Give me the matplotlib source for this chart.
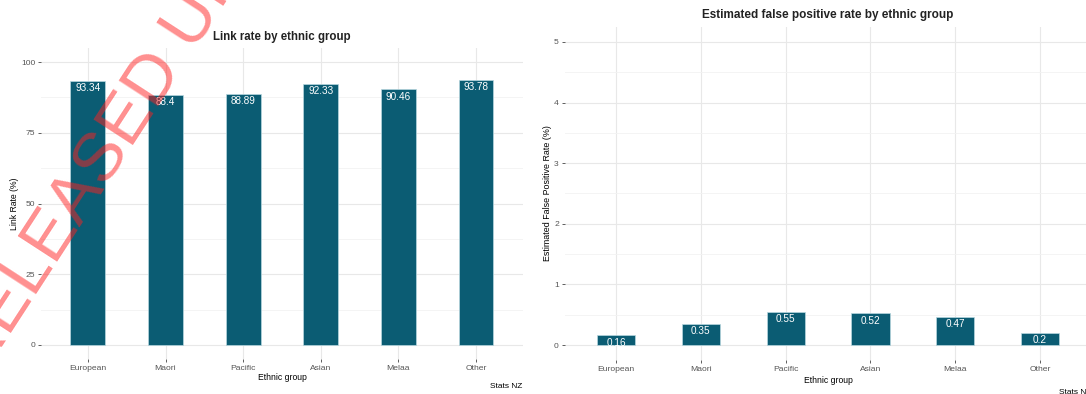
import matplotlib.pyplot as plt
from matplotlib.ticker import MultipleLocator

groups = ["European", "Maori", "Pacific", "Asian", "Melaa", "Other"]
link_rate = [93.34, 88.4, 88.89, 92.33, 90.46, 93.78]
false_pos_rate = [0.16, 0.35, 0.55, 0.52, 0.47, 0.2]

BAR = "#0b5c73"
GRID = "#e8e8e8"
plt.rcParams["font.family"] = ["Liberation Sans", "DejaVu Sans"]


def bar_panel(ax, values, ymax, major, minor):
    x = range(len(groups))
    ax.bar(x, values, width=0.45, color=BAR, edgecolor="#b8d8e0",
           linewidth=0.5, zorder=3)
    for i, v in zip(x, values):
        ax.annotate(f"{v:g}", (i, v), xytext=(0, -1.8), textcoords="offset points",
                    ha="center", va="top", color="white", fontsize=7.2, zorder=4)
    ax.set_xlim(-0.6, len(groups) - 0.4)
    ax.set_xticks(list(x))
    ax.set_xticklabels(groups)
    ax.yaxis.set_major_locator(MultipleLocator(major))
    ax.yaxis.set_minor_locator(MultipleLocator(minor))
    ax.set_ylim(-0.05 * ymax, 1.05 * ymax)
    ax.grid(which="major", color=GRID, linewidth=0.8, zorder=0)
    ax.grid(which="minor", axis="y", color="#f2f2f2", linewidth=0.6, zorder=0)
    ax.tick_params(which="major", length=2.5, width=0.6, color="#444444",
                   labelsize=6.1, labelcolor="#555555", pad=2)
    ax.tick_params(which="minor", length=0)
    for s in ax.spines.values():
        s.set_visible(False)
    ax.set_axisbelow(True)


fig = plt.figure(figsize=(10.86, 3.94), dpi=100)

ax1 = fig.add_axes([0.0381, 0.0888, 0.4431, 0.7894])
bar_panel(ax1, link_rate, 100, 25, 12.5)
fig.text(0.2597, 0.906, "Link rate by ethnic group", ha="center", va="center",
         fontsize=8.3, fontweight="bold", color="#222222")
fig.text(0.2597, 0.043, "Ethnic group", ha="center", va="center", fontsize=6.2)
fig.text(0.0138, 0.483, "Link Rate (%)", ha="center", va="center",
         rotation=90, fontsize=6.2)
fig.text(0.481, 0.01, "Stats NZ", ha="right", va="bottom", fontsize=6)

ax2 = fig.add_axes([0.5203, 0.0859, 0.4843, 0.846])
bar_panel(ax2, false_pos_rate, 5, 1, 0.5)
fig.text(0.7624, 0.962, "Estimated false positive rate by ethnic group",
         ha="center", va="center", fontsize=8.5, fontweight="bold", color="#222222")
fig.text(0.7624, 0.035, "Ethnic group", ha="center", va="center", fontsize=6.2)
fig.text(0.5046, 0.509, "Estimated False Positive Rate (%)", ha="center",
         va="center", rotation=90, fontsize=6.4)
fig.text(1.0046, -0.004, "Stats NZ", ha="right", va="bottom", fontsize=6)

# watermark stamp
fig.text(-0.031, 0.06, "RELEASED UNDER THE OFFICIAL INFORMATION ACT",
         rotation=57, rotation_mode="anchor", ha="left", va="center",
         fontsize=50, color="#ff2020", alpha=0.5, zorder=10)

fig.savefig("out.png", dpi=100)
